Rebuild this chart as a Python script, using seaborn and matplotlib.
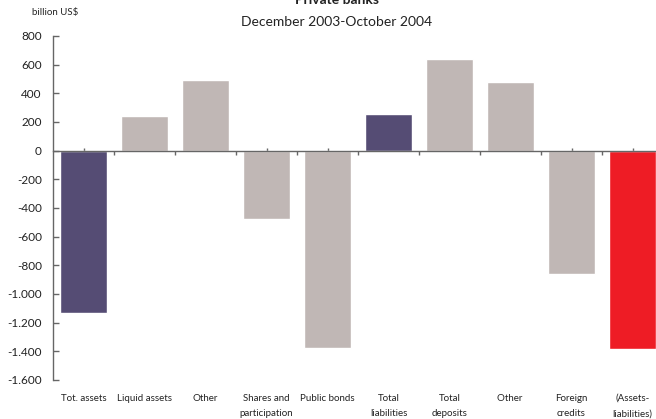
import matplotlib
matplotlib.use("Agg")
import matplotlib.pyplot as plt
from matplotlib.ticker import FuncFormatter, FixedLocator
import seaborn as sns
import pandas as pd

categories = ["Tot. assets", "Liquid assets", "Other", "Shares and\nparticipation",
              "Public bonds", "Total\nliabilities", "Total\ndeposits", "Other ",
              "Foreign\ncredits", "(Assets-\nliabilities)"]
values = [-1130, 245, 490, -475, -1375, 257, 640, 480, -860, -1385]
colors = ["#554C74", "#C0B7B5", "#C0B7B5", "#C0B7B5", "#C0B7B5",
          "#554C74", "#C0B7B5", "#C0B7B5", "#C0B7B5", "#EE1C25"]
yticks = [800, 600, 400, 200, 0, -200, -400, -600, -800, -1000, -1200, -1400, -1600]

sns.set_theme(style="white")
plt.rcParams['font.family'] = ['Lato', 'DejaVu Sans']

df = pd.DataFrame({"cat": categories, "val": values})

fig = plt.figure(figsize=(6.56, 4.19), dpi=100)
ax = fig.add_axes([53/656, 1 - 380/419, 610/656, 344/419])
sns.barplot(data=df, x="cat", y="val", hue="cat", palette=colors, legend=False,
            width=0.77, saturation=1, ax=ax, order=categories, hue_order=categories)
ax.set_xlim(-0.5, 9.5)
ax.set_ylim(-1600, 800)
ax.set_xlabel("")
ax.set_ylabel("")

for s in ["top", "right"]:
    ax.spines[s].set_visible(False)
ax.spines["bottom"].set_position(("data", 0))
ax.spines["bottom"].set_color("#666666")
ax.spines["left"].set_color("#666666")
ax.spines["bottom"].set_linewidth(1.0)
ax.spines["left"].set_linewidth(1.0)

ax.set_yticks(yticks)
ax.yaxis.set_major_formatter(FuncFormatter(lambda v, p: f"{int(v):,}".replace(",", ".")))
ax.tick_params(axis="y", direction="in", length=4, width=1, color="#666666",
               labelsize=8.5, pad=8, labelcolor="#222222", left=True)

ax.set_xticks(range(len(categories)))
ax.set_xticklabels(categories, fontsize=7, color="#222222", linespacing=1.95, va="top")
ax.tick_params(axis="x", which="major", direction="in", length=2, width=1,
               color="#666666", pad=175, bottom=True)
ax.xaxis.set_minor_locator(FixedLocator([i + 0.5 for i in range(len(categories))]))
ax.tick_params(axis="x", which="minor", direction="out", length=3, width=1,
               color="#666666", bottom=True)

fig.text(337/656, 1.0, "Private banks", ha="center", va="center",
         fontsize=10, fontweight="bold", color="#222222")
fig.text(337/656, 1 - 22/419, "December 2003-October 2004", ha="center", va="center",
         fontsize=10, color="#222222")
fig.text(32/656, 1 - 13/419, "billion US$", ha="left", va="center",
         fontsize=7, color="#222222")

fig.savefig("out.png", dpi=100)
